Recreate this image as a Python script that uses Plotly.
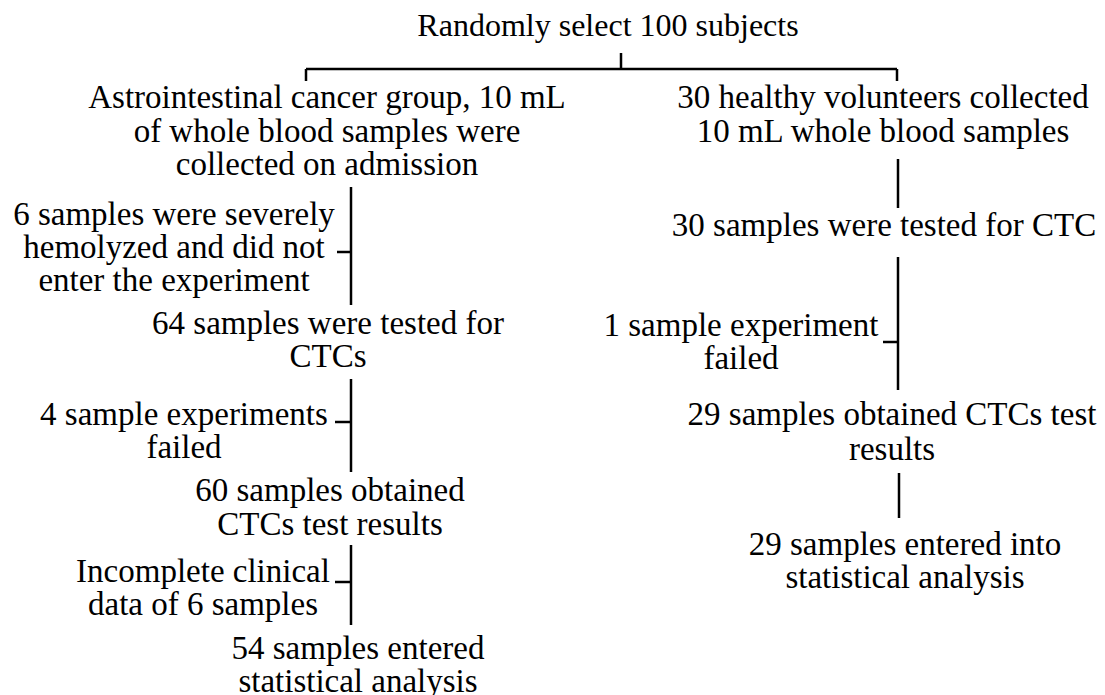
import plotly.graph_objects as go

# ---- Flowchart content (one entry per text line) ----
labels = [
    "Randomly select 100 subjects",
    "Astrointestinal cancer group, 10 mL",
    "of whole blood samples were",
    "collected on admission",
    "30 healthy volunteers collected",
    "10 mL whole blood samples",
    "6 samples were severely",
    "hemolyzed and did not",
    "enter the experiment",
    "64 samples were tested for",
    "CTCs",
    "4 sample experiments",
    "failed",
    "60 samples obtained",
    "CTCs test results",
    "Incomplete clinical",
    "data of 6 samples",
    "54 samples entered",
    "statistical analysis",
    "30 samples were tested for CTC",
    "1 sample experiment",
    "failed",
    "29 samples obtained CTCs test",
    "results",
    "29 samples entered into",
    "statistical analysis",
]
# centre of each text line (canvas units = pixels of the 1105x695 picture)
label_x = [608, 327, 327, 327, 883, 883, 174, 174, 174, 328, 328, 184, 184,
           330, 330, 203, 203, 358, 358, 884, 741, 741, 892, 892, 905, 905]
label_y = [28, 100, 134, 167, 100, 134, 217, 250, 283, 326, 359, 417, 450,
           493, 527, 574, 607, 651, 684, 228, 328, 361, 417, 452, 547, 580]
label_size = [32] + [33] * (len(labels) - 1)

# connector segments: x0, y0, x1, y1
seg_x0 = [621, 306, 306, 897, 351, 337, 351, 335, 351, 335, 898, 898, 883, 899]
seg_y0 = [53, 69, 69, 69, 187, 252, 379, 422, 545, 582, 159, 257, 342, 473]
seg_x1 = [621, 897, 306, 897, 351, 351, 351, 351, 351, 351, 898, 898, 898, 899]
seg_y1 = [69, 69, 81, 81, 305, 252, 472, 422, 625, 582, 208, 390, 342, 518]

line_x, line_y = [], []
for a, b, c, d in zip(seg_x0, seg_y0, seg_x1, seg_y1):
    line_x += [a, c, None]
    line_y += [b, d, None]

fig = go.Figure()
fig.add_trace(go.Scatter(
    x=line_x, y=line_y, mode="lines",
    line=dict(color="black", width=2.5),
    hoverinfo="skip", showlegend=False,
))
fig.add_trace(go.Scatter(
    x=label_x, y=label_y, text=labels, mode="text",
    textposition="middle center",
    textfont=dict(family="Liberation Serif, Times New Roman, serif", size=label_size, color="black"),
    hoverinfo="skip", showlegend=False,
))

# the page body has an 8px margin, so the canvas range is offset by 8 units
fig.update_layout(
    width=1105, height=695,
    margin=dict(l=0, r=0, t=0, b=0),
    paper_bgcolor="white", plot_bgcolor="white",
    xaxis=dict(range=[8, 1113], visible=False, fixedrange=True),
    yaxis=dict(range=[703, 8], visible=False, fixedrange=True),
)

fig.write_html("out.html")
